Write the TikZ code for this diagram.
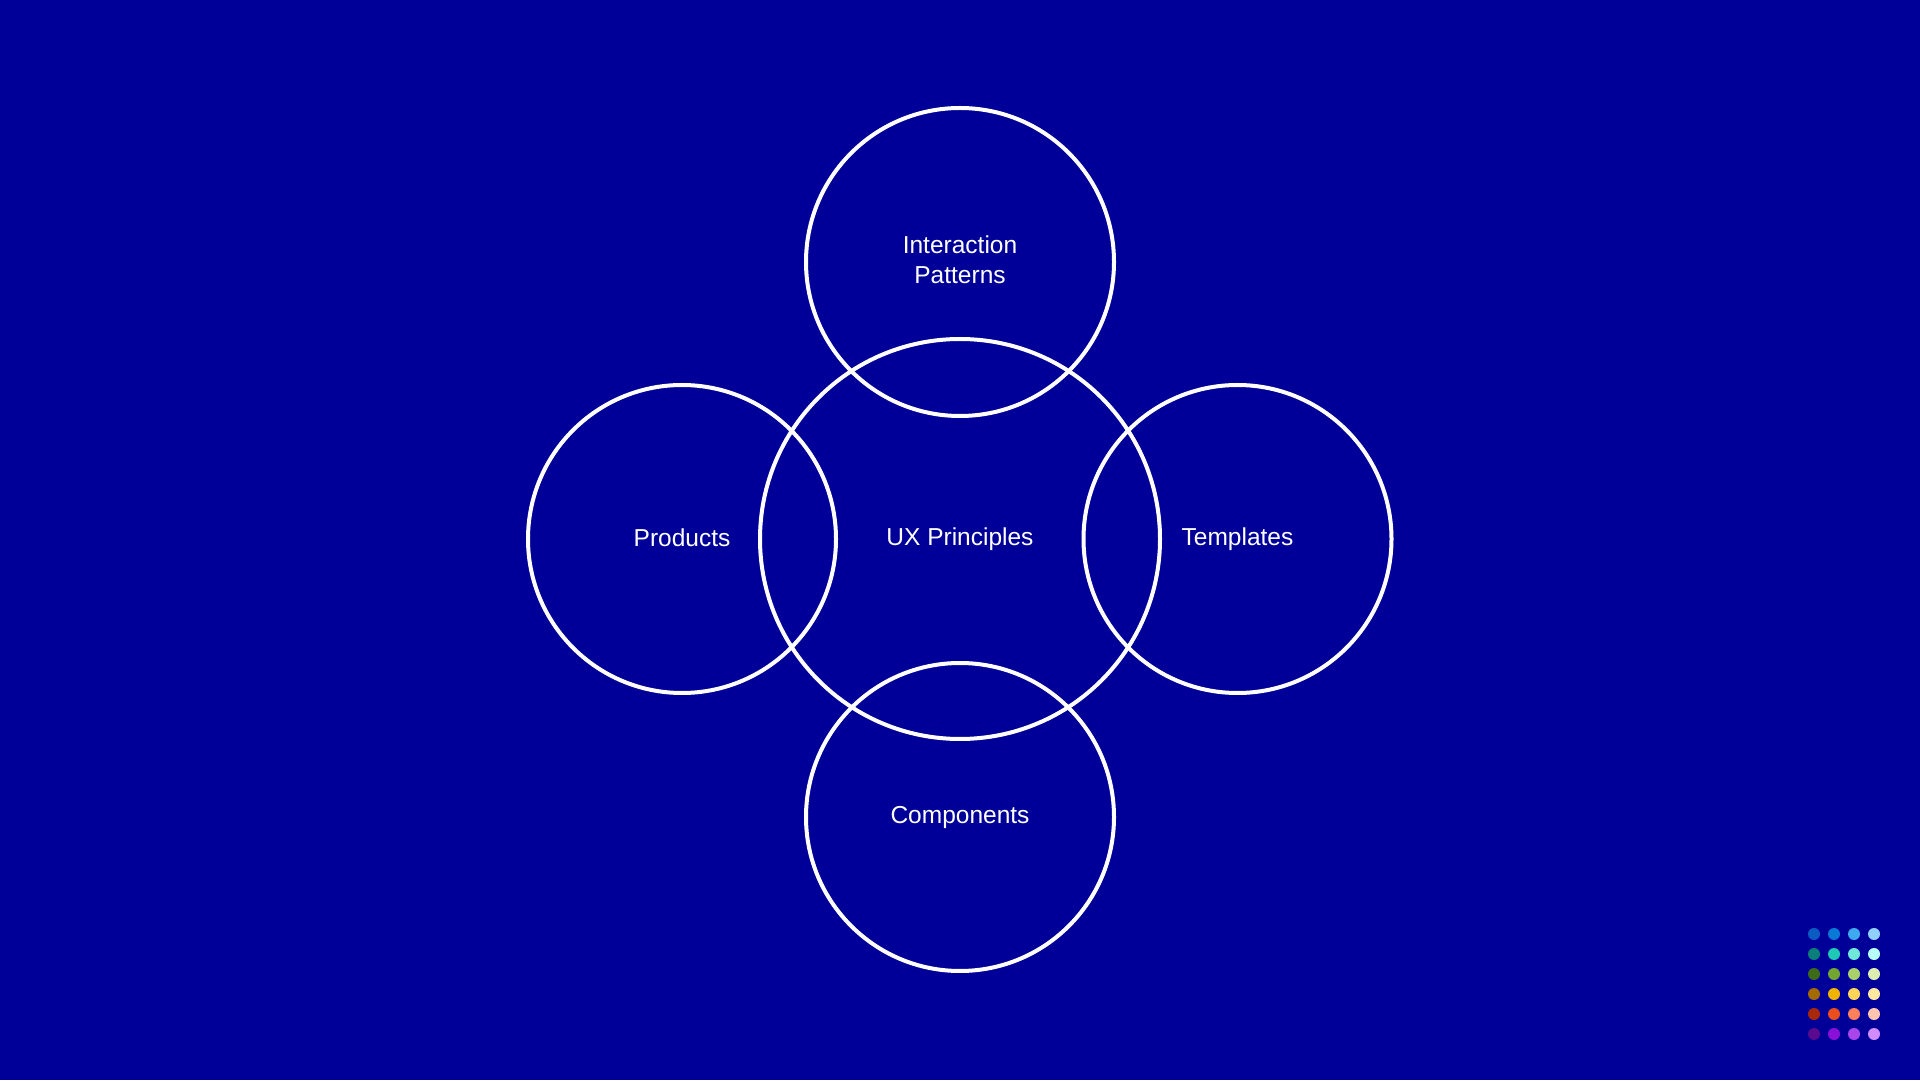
\documentclass[tikz,border=0pt]{standalone}
\usepackage{fontspec}
\setmainfont{Liberation Sans}
\definecolor{bg}{HTML}{000099}
\definecolor{d11}{HTML}{0A5CC2}\definecolor{d12}{HTML}{0A78D6}\definecolor{d13}{HTML}{3FA9F0}\definecolor{d14}{HTML}{8FD0FF}
\definecolor{d21}{HTML}{0A7E78}\definecolor{d22}{HTML}{1FC7B5}\definecolor{d23}{HTML}{6FE8DA}\definecolor{d24}{HTML}{B8FFF8}
\definecolor{d31}{HTML}{3E6B1A}\definecolor{d32}{HTML}{73A532}\definecolor{d33}{HTML}{A9D06A}\definecolor{d34}{HTML}{DCEFB0}
\definecolor{d41}{HTML}{A26A00}\definecolor{d42}{HTML}{F0B400}\definecolor{d43}{HTML}{FFD55A}\definecolor{d44}{HTML}{FFE9A0}
\definecolor{d51}{HTML}{A8290A}\definecolor{d52}{HTML}{E84E1E}\definecolor{d53}{HTML}{FF805A}\definecolor{d54}{HTML}{FFC5B0}
\definecolor{d61}{HTML}{5A0A8F}\definecolor{d62}{HTML}{8A10D8}\definecolor{d63}{HTML}{A946EA}\definecolor{d64}{HTML}{D08CFF}
\tikzset{
  ring/.style={circle, draw=white, line width=4pt, minimum size=#1, inner sep=0pt},
  lbl/.style={text=white, font=\fontsize{24.5}{30}\selectfont, align=center},
  dot/.style={circle, fill=#1, minimum size=12pt, inner sep=0pt}
}
\begin{document}
\begin{tikzpicture}[x=1pt,y=1pt]
\fill[bg] (0,0) rectangle (1920,1080);
\useasboundingbox (0,0) rectangle (1920,1080);
\node[ring=400pt] (ux) at (960,541) {};
\node[ring=308pt] (ip) at (960,818) {};
\node[ring=308pt] (pr) at (682,541) {};
\node[ring=308pt] (tp) at (1237.5,541) {};
\node[ring=308pt] (cp) at (960,263) {};
\node[lbl] (uxl) at (ux.center) {UX Principles};
\node[lbl] (ipl) at ([yshift=2pt]ip.center) {Interaction\\Patterns};
\node[lbl] (prl) at ([yshift=1pt]pr.center) {Products};
\node[lbl] (tpl) at (tp.center) {Templates};
\node[lbl] (cpl) at (cp.center) {Components};
\foreach \r in {1,...,6}{
  \foreach \c in {1,...,4}{
    \node[dot=d\r\c] (dot\r\c) at ({1814+20*(\c-1)},{1080-934-20*(\r-1)}) {};
  }
}
\end{tikzpicture}
\end{document}
